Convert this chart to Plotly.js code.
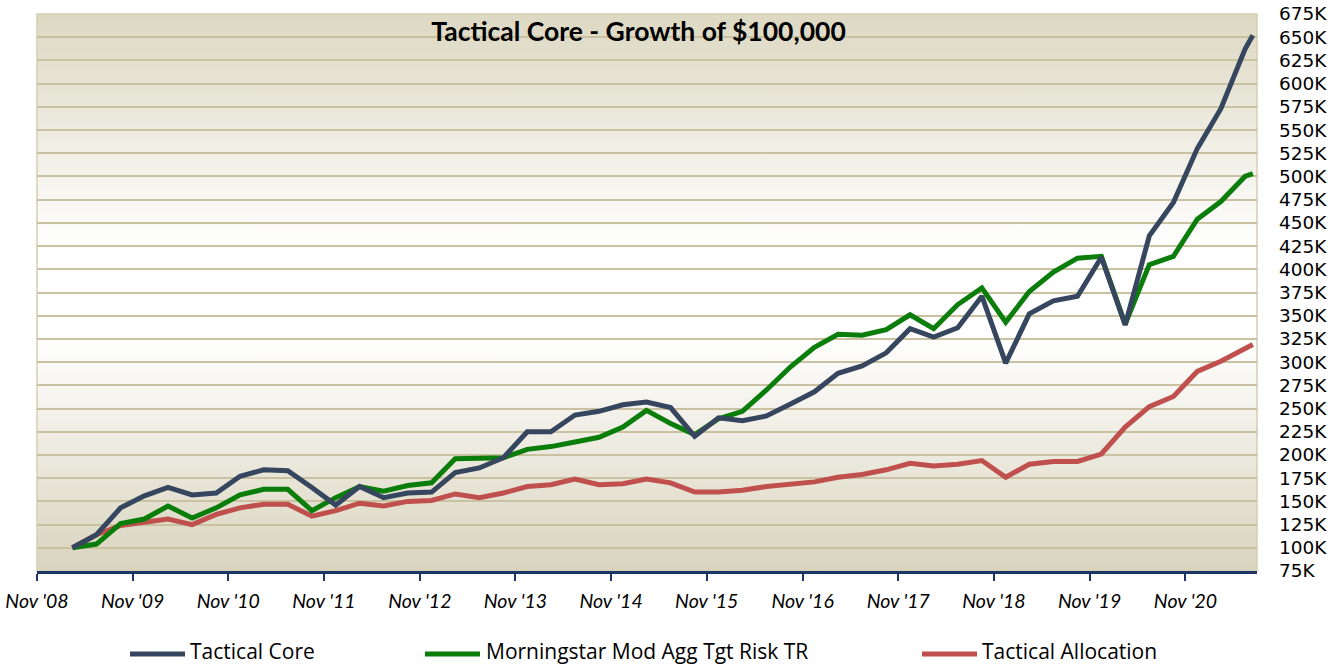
<!DOCTYPE html>
<html>
<head>
<meta charset="utf-8">
<script src="https://cdn.plot.ly/plotly-3.0.1.min.js"></script>
<style>
  html, body { margin: 0; padding: 0; background: #ffffff; }
  #chart { width: 1333px; height: 667px; }
</style>
</head>
<body>
<div id="chart"></div>
<script>
// ---- Data (values in thousands of dollars) ----
const dates = [
  '2009-03-16','2009-06-16','2009-09-16','2009-12-16',
  '2010-03-16','2010-06-16','2010-09-16','2010-12-16',
  '2011-03-16','2011-06-16','2011-09-16','2011-12-16',
  '2012-03-16','2012-06-16','2012-09-16','2012-12-16',
  '2013-03-16','2013-06-16','2013-09-16','2013-12-16',
  '2014-03-16','2014-06-16','2014-09-16','2014-12-16',
  '2015-03-16','2015-06-16','2015-09-16','2015-12-16',
  '2016-03-16','2016-06-16','2016-09-16','2016-12-16',
  '2017-03-16','2017-06-16','2017-09-16','2017-12-16',
  '2018-03-16','2018-06-16','2018-09-16','2018-12-16',
  '2019-03-16','2019-06-16','2019-09-16','2019-12-16',
  '2020-03-16','2020-06-16','2020-09-16','2020-12-16',
  '2021-03-16','2021-06-16','2021-07-16'
];

const tacticalCore = [
  100,114,143,156,165,157,159,177,184,183,165,146,
  166,154,159,160,181,186,197,225,225,243,247,254,
  257,251,220,240,237,242,255,268,288,296,310,336,
  327,337,371,299,352,366,371,413,340,436,472,530,
  573,637,652
];

const morningstar = [
  100,104,126,131,145,132,143,157,163,163,140,154,
  166,161,167,170,196,196,197,206,209,214,219,230,
  248,234,222,239,247,270,295,316,330,329,335,351,
  336,362,380,343,376,397,412,414,341,405,414,454,
  473,500,503
];

const tacticalAllocation = [
  100,114,124,128,131,125,136,143,147,147,134,140,
  148,145,150,151,158,154,159,166,168,174,168,169,
  174,170,160,160,162,166,169,171,176,179,184,191,
  188,190,194,176,190,193,193,201,230,252,263,290,
  301,315,319
];

const seriesNames = ['Tactical Core', 'Morningstar Mod Agg Tgt Risk TR', 'Tactical Allocation'];
const seriesColors = ['#36465e', '#0a7d0a', '#c0504d'];

const xTickVals = ['2008-11-01','2009-11-01','2010-11-01','2011-11-01','2012-11-01','2013-11-01',
                   '2014-11-01','2015-11-01','2016-11-01','2017-11-01','2018-11-01','2019-11-01','2020-11-01'];
const xTickText = ["Nov '08","Nov '09","Nov '10","Nov '11","Nov '12","Nov '13",
                   "Nov '14","Nov '15","Nov '16","Nov '17","Nov '18","Nov '19","Nov '20"];

const yTickVals = [];
for (let v = 75; v <= 675; v += 25) yTickVals.push(v);

const titleText = 'Tactical Core - Growth of $100,000';

// ---- Layout geometry (pixels) ----
const W = 1333, H = 667;
const M = { l: 37, r: 76, t: 14, b: 96 };
const plotW = W - M.l - M.r, plotH = H - M.t - M.b;
const px2x = p => (p - M.l) / plotW;
const py2y = p => (H - M.b - p) / plotH;

const allSeries = [tacticalCore, morningstar, tacticalAllocation];
const traces = allSeries.map((vals, i) => ({
  type: 'scatter',
  mode: 'lines',
  x: dates,
  y: vals,
  name: seriesNames[i],
  line: { color: seriesColors[i], width: 5, shape: 'linear' },
  showlegend: false,
  hoverinfo: 'x+y+name'
}));
const ordered = [traces[2], traces[1], traces[0]];

// background gradient as inline SVG image
const gradSvg = '<svg xmlns="http://www.w3.org/2000/svg" width="100" height="100" preserveAspectRatio="none">' +
  '<defs><linearGradient id="g" x1="0" y1="0" x2="0" y2="1">' +
  '<stop offset="0" stop-color="#dcd8c2"/>' +
  '<stop offset="0.42" stop-color="#ffffff"/>' +
  '<stop offset="0.58" stop-color="#ffffff"/>' +
  '<stop offset="1" stop-color="#d9d4be"/>' +
  '</linearGradient></defs><rect width="100" height="100" fill="url(#g)"/></svg>';
const gradUri = 'data:image/svg+xml;base64,' + btoa(gradSvg);

// custom legend
const legendY = 651;
const legendItems = [
  { lineFrom: 130, lineTo: 185, textX: 188 },
  { lineFrom: 425, lineTo: 480, textX: 484 },
  { lineFrom: 922, lineTo: 977, textX: 980 }
];
const shapes = [];
const annotations = [];
legendItems.forEach((it, i) => {
  shapes.push({
    type: 'line', xref: 'paper', yref: 'paper',
    x0: px2x(it.lineFrom), x1: px2x(it.lineTo),
    y0: py2y(legendY + 3), y1: py2y(legendY + 3),
    line: { color: seriesColors[i], width: 5 }
  });
  annotations.push({
    xref: 'paper', yref: 'paper',
    x: px2x(it.textX), y: py2y(legendY),
    xanchor: 'left', yanchor: 'middle',
    text: seriesNames[i], showarrow: false,
    font: { family: '"Open Sans", Lato, sans-serif', size: 21, color: '#000000' }
  });
});
// plot border (light tan)
shapes.push({
  type: 'rect', xref: 'paper', yref: 'paper', x0: 0, x1: 1, y0: 0, y1: 1,
  line: { color: '#d4ceb4', width: 1.5 }, layer: 'below'
});

const layout = {
  width: W, height: H,
  margin: M,
  paper_bgcolor: '#ffffff',
  plot_bgcolor: 'rgba(0,0,0,0)',
  showlegend: false,
  title: {
    text: '<b>' + titleText + '</b>',
    xref: 'paper', yref: 'paper',
    x: px2x(638.5), y: py2y(32),
    xanchor: 'center', yanchor: 'middle',
    font: { family: 'Lato, "Open Sans", sans-serif', size: 26.5, color: '#000000' }
  },
  xaxis: {
    type: 'date',
    range: ['2008-11-01', '2021-08-01'],
    tickmode: 'array',
    tickvals: xTickVals,
    ticktext: xTickText,
    ticks: 'outside', ticklen: 7, tickwidth: 2, tickcolor: '#1c3466',
    showline: true, linecolor: '#1c3466', linewidth: 3,
    showgrid: false, zeroline: false,
    ticklabelstandoff: 4,
    tickfont: { family: 'Lato, "Open Sans", sans-serif', size: 19.5, color: '#000000', style: 'italic' },
    fixedrange: true
  },
  yaxis: {
    side: 'right',
    range: [75, 675],
    tickmode: 'array',
    tickvals: yTickVals,
    ticktext: yTickVals.map(v => v + 'K'),
    ticks: '', showline: false,
    showgrid: true, gridcolor: '#c9c1a0', gridwidth: 2,
    zeroline: false,
    ticklabelstandoff: 21,
    tickfont: { family: '"DejaVu Sans", sans-serif', size: 18.5, color: '#000000' },
    fixedrange: true
  },
  images: [{
    source: gradUri, xref: 'paper', yref: 'paper',
    x: 0, y: 1, sizex: 1, sizey: 1, sizing: 'stretch',
    xanchor: 'left', yanchor: 'top', layer: 'below'
  }],
  shapes: shapes,
  annotations: annotations
};

Plotly.newPlot('chart', ordered, layout, { displayModeBar: false, staticPlot: true });
</script>
</body>
</html>
